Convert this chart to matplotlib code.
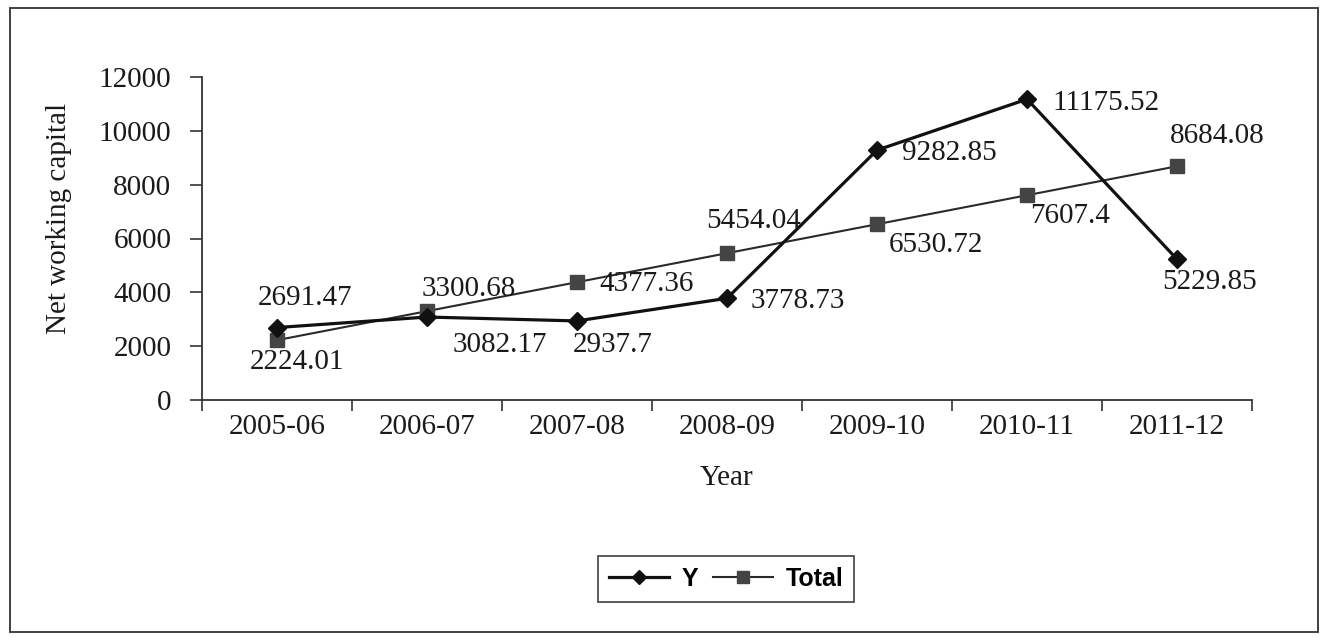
import matplotlib
matplotlib.use("Agg")
import matplotlib.pyplot as plt
from matplotlib.patches import Rectangle

# Data
years = ["2005-06", "2006-07", "2007-08", "2008-09", "2009-10", "2010-11", "2011-12"]
y_values = [2691.47, 3082.17, 2937.7, 3778.73, 9282.85, 11175.52, 5229.85]
total_values = [2224.01, 3300.68, 4377.36, 5454.04, 6530.72, 7607.4, 8684.08]
y_ticks = [0, 2000, 4000, 6000, 8000, 10000, 12000]

# Label placement (pixel offsets from each marker)
y_label_offsets = [(28, 30), (73, -28), (36, -24), (71, -3), (72, -3), (79, -4), (33, -23)]
total_label_offsets = [(20, -22), (42, 22), (70, -2), (27, 32), (59, -21), (43, -21), (40, 30)]

serif = ["Liberation Serif", "DejaVu Serif"]
sans = ["Liberation Sans", "DejaVu Sans"]
FS = 21

W, H, DPI = 1325, 637, 100
fig = plt.figure(figsize=(W / DPI, H / DPI), dpi=DPI, facecolor="white")

# Outer frame around the chart area
fig.patches.append(Rectangle((10 / W, 1 - 632 / H), 1308 / W, 624 / H,
                             transform=fig.transFigure, fill=False,
                             edgecolor="#333333", linewidth=1.3))

ax_left, ax_right, ax_top, ax_bottom = 202, 1252, 77, 400
ax = fig.add_axes([ax_left / W, 1 - ax_bottom / H,
                   (ax_right - ax_left) / W, (ax_bottom - ax_top) / H])

x = list(range(len(years)))
ax.plot(x, y_values, color="#111111", linewidth=2.3, marker="D",
        markersize=9, markerfacecolor="#111111", markeredgecolor="#111111",
        label="Y", zorder=3)
ax.plot(x, total_values, color="#2a2a2a", linewidth=1.5, marker="s",
        markersize=10, markerfacecolor="#444444", markeredgecolor="#444444",
        label="Total", zorder=2)

for xi, v, off in zip(x, y_values, y_label_offsets):
    ax.annotate(str(v), (xi, v), xytext=off, textcoords="offset pixels",
                ha="center", va="center", fontsize=FS, family=serif,
                color="#1a1a1a", zorder=5)
for xi, v, off in zip(x, total_values, total_label_offsets):
    ax.annotate(str(v), (xi, v), xytext=off, textcoords="offset pixels",
                ha="center", va="center", fontsize=FS, family=serif,
                color="#1a1a1a", zorder=5)

ax.set_xlim(-0.5, len(years) - 0.5)
ax.set_ylim(0, 12000)

# Category boundaries carry the tick marks; labels sit at the centres
ax.set_xticks([i - 0.5 for i in range(len(years) + 1)])
ax.set_xticklabels([])
ax.set_xticks(x, minor=True)
ax.set_xticklabels(years, minor=True, fontsize=FS, family=serif, color="#1a1a1a")
ax.tick_params(axis="x", which="major", direction="out", length=8, width=1.2,
               color="#333333")
ax.tick_params(axis="x", which="minor", length=0, pad=10)

ax.set_yticks(y_ticks)
ax.set_yticklabels([str(t) for t in y_ticks], fontsize=FS, family=serif,
                   color="#1a1a1a")
ax.tick_params(axis="y", direction="out", length=9, width=1.2, color="#333333",
               pad=13)

for side in ("top", "right"):
    ax.spines[side].set_visible(False)
for side in ("left", "bottom"):
    ax.spines[side].set_color("#333333")
    ax.spines[side].set_linewidth(1.3)

ax.set_ylabel("Net working capital", fontsize=FS, family=serif, color="#1a1a1a")
ax.yaxis.set_label_coords(-0.124, 0.563)
ax.set_xlabel("Year", fontsize=FS, family=serif, color="#1a1a1a")
ax.xaxis.set_label_coords(0.5, -0.201)

leg = fig.legend(loc="center", bbox_to_anchor=(726 / W, 1 - 579 / H),
                 ncol=2, frameon=True, fancybox=False, edgecolor="#222222",
                 prop={"family": sans, "weight": "bold", "size": 18},
                 handlelength=2.4, handletextpad=0.5, columnspacing=0.6,
                 borderpad=0.45, borderaxespad=0, markerscale=0.8)
leg.get_frame().set_linewidth(1.3)

fig.savefig("out.png", dpi=DPI, facecolor="white")
